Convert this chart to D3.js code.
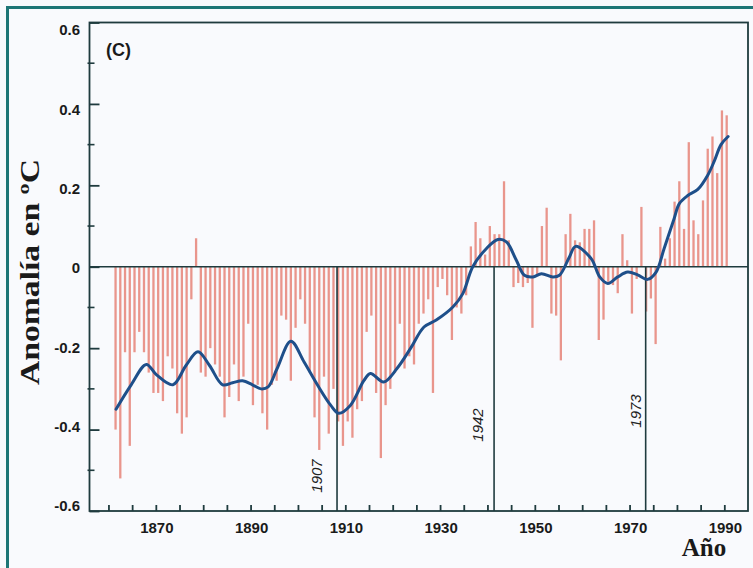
<!DOCTYPE html>
<html><head><meta charset="utf-8">
<script src="https://cdn.jsdelivr.net/npm/d3@7/dist/d3.min.js"></script>
<style>html,body{margin:0;padding:0;background:#f9fafd;} svg{display:block}</style>
</head><body>
<script>
// ---------------- data ----------------
const startYear = 1861;
const anomalies = [
 -0.40,-0.52,-0.21,-0.44,-0.21,-0.16,-0.21,-0.26,-0.31,-0.31, // 1861-1870
 -0.33,-0.22,-0.25,-0.36,-0.41,-0.37,-0.08, 0.07,-0.26,-0.27, // 1871-1880
 -0.20,-0.24,-0.27,-0.37,-0.32,-0.24,-0.33,-0.27,-0.14,-0.34, // 1881-1890
 -0.29,-0.36,-0.40,-0.29,-0.28,-0.12,-0.13,-0.28,-0.15,-0.08, // 1891-1900
 -0.14,-0.26,-0.37,-0.45,-0.27,-0.41,-0.30,-0.38,-0.44,-0.38, // 1901-1910
 -0.42,-0.35,-0.33,-0.16,-0.12,-0.31,-0.47,-0.34,-0.30,-0.26, // 1911-1920
 -0.14,-0.25,-0.22,-0.24,-0.14,-0.115,-0.08,-0.31,-0.05,-0.03, // 1921-1930
 -0.07,-0.18,-0.10,-0.115,-0.07, 0.05, 0.11, 0.07, 0.03, 0.10, // 1931-1940
  0.08, 0.08, 0.21, 0.065,-0.05,-0.04,-0.05,-0.04,-0.15,-0.02, // 1941-1950
  0.10, 0.145,-0.115,-0.12,-0.23, 0.08, 0.13, 0.065, 0.06, 0.093, // 1951-1960
  0.093, 0.114,-0.18,-0.13,-0.037,-0.045,-0.065, 0.08, 0.016,-0.115, // 1961-1970
 -0.03, 0.147,-0.11,-0.078,-0.19, 0.098, 0.02, 0.07, 0.16, 0.21, // 1971-1980
  0.093, 0.306, 0.114, 0.08, 0.163, 0.29, 0.32, 0.23, 0.384, 0.372 // 1981-1990
];
const years = anomalies.map((v, i) => startYear + i);

const smoothYears = [1861.6,1864.8,1868.0,1870.1,1873.6,1876.4,1878.9,1881.3,1884.1,1886.2,1888.3,1890.4,1892.2,
  1893.7,1895.6,1898.5,1901.3,1904.1,1906.9,1908.6,1911.1,1913.9,1915.3,1918.1,1920.9,1923.8,1926.6,
  1929.2,1932.7,1934.8,1936.9,1939.8,1942.2,1944.0,1946.1,1947.8,1949.6,1951.4,1953.8,1955.2,1957.3,
  1958.6,1961.9,1963.7,1965.4,1967.5,1969.6,1971.7,1973.8,1975.6,1977.3,1979.4,1980.5,1982.3,1984.4,
  1986.5,1987.9,1989.3,1990.8];
const smoothValues = [-0.35,-0.29,-0.24,-0.265,-0.29,-0.242,-0.209,-0.242,-0.29,-0.285,-0.28,-0.29,-0.30,
  -0.295,-0.25,-0.183,-0.234,-0.29,-0.34,-0.36,-0.34,-0.28,-0.262,-0.283,-0.25,-0.20,-0.148,
  -0.131,-0.099,-0.066,0.0,0.045,0.067,0.061,0.016,-0.021,-0.025,-0.017,-0.025,-0.021,0.024,
  0.05,0.02,-0.025,-0.041,-0.025,-0.013,-0.02,-0.031,-0.013,0.045,0.118,0.155,0.175,0.19,
  0.225,0.26,0.30,0.32];

const markerYears = [1908.25, 1941.4, 1973.4];
const markerLabels = ["1907", "1942", "1973"];

const yTickValues = [-0.6, -0.4, -0.2, 0, 0.2, 0.4, 0.6];
const yTickLabels = ["-0.6", "-0.4", "-0.2", "0", "0.2", "0.4", "0.6"];
const yMinorValues = [-0.5, -0.3, -0.1, 0.1, 0.3, 0.5];
const xLabelYears = [1870, 1890, 1910, 1930, 1950, 1970, 1990];
const xMinorYears = [1860,1865,1870,1875,1880,1885,1890,1895,1900,1905,1910,1915,1920,1925,1930,1935,1940,1945,1950,1955,1960,1965,1970,1975,1980,1985,1990];

const panelLabel = "(C)";
const yTitle = "Anomalía en ºC";
const xTitle = "Año";

// ---------------- layout ----------------
const W = 753, H = 568;
const L = 89.5, R = 748, T = 22.5, B = 511;
const frameColor = "#1d7676";
const axisColor = "#1f3b3e";
const barColor = "#e9958c";
const curveColor = "#1e4f8a";

const svg = d3.select("body").append("svg").attr("width", W).attr("height", H);
svg.append("rect").attr("width", W).attr("height", H).attr("fill", "#f9fafd");
// outer frame
svg.append("rect").attr("x", 7.5).attr("y", 7.5).attr("width", W + 10).attr("height", H + 10)
  .attr("fill", "none").attr("stroke", frameColor).attr("stroke-width", 3);

const x = d3.scaleLinear().domain([1856, 1995]).range([L, R]);
const y = d3.scaleLinear().domain([-0.6, 0.6]).range([B, T]);
// tick labels in the scanned original sit on a slightly compressed grid
const yLab = d3.scaleLinear().domain([-0.6, 0.6]).range([506, 30]);

// bars
svg.append("g").selectAll("line").data(years).join("line")
  .attr("x1", d => x(d + 0.5)).attr("x2", d => x(d + 0.5))
  .attr("y1", y(0)).attr("y2", (d, i) => y(anomalies[i]))
  .attr("stroke", barColor).attr("stroke-width", 2.3);

// zero line
svg.append("line").attr("x1", L).attr("x2", R).attr("y1", y(0)).attr("y2", y(0))
  .attr("stroke", axisColor).attr("stroke-width", 1.5);

// marker lines
svg.append("g").selectAll("line").data(markerYears).join("line")
  .attr("x1", d => x(d)).attr("x2", d => x(d))
  .attr("y1", y(0)).attr("y2", B)
  .attr("stroke", axisColor).attr("stroke-width", 1.6);

const labelDx = [-20, -16.5, -10];
const labelY = [476, 425, 411];
svg.append("g").selectAll("text").data(markerLabels).join("text")
  .attr("transform", (d, i) => `translate(${x(markerYears[i]) + labelDx[i]},${labelY[i]}) rotate(-90)`)
  .attr("text-anchor", "middle").attr("dy", "0.35em")
  .attr("font-family", "Liberation Sans, Arial, sans-serif").attr("font-style", "italic")
  .attr("font-size", 15).attr("fill", "#222")
  .text(d => d);

// smooth curve
const line = d3.line().x((d, i) => x(smoothYears[i])).y(d => y(d)).curve(d3.curveCatmullRom.alpha(0.5));
svg.append("path").datum(smoothValues).attr("d", line)
  .attr("fill", "none").attr("stroke", curveColor).attr("stroke-width", 3).attr("stroke-linecap", "round");

// plot box
svg.append("rect").attr("x", L).attr("y", T).attr("width", R - L).attr("height", B - T)
  .attr("fill", "none").attr("stroke", axisColor).attr("stroke-width", 1.8);

// y axis ticks (inward)
const yAxis = d3.axisRight(y).tickValues(yTickValues).tickSize(10).tickFormat("");
svg.append("g").attr("transform", `translate(${L},0)`).call(yAxis)
  .call(g => g.select(".domain").remove())
  .call(g => g.selectAll(".tick line").attr("stroke", axisColor).attr("stroke-width", 1.8));
svg.append("g").selectAll("line").data(yMinorValues).join("line")
  .attr("x1", L - 2).attr("x2", L + 5).attr("y1", d => y(d)).attr("y2", d => y(d))
  .attr("stroke", axisColor).attr("stroke-width", 1.6);
svg.append("g").selectAll("text").data(yTickValues).join("text")
  .attr("x", 80).attr("y", d => yLab(d)).attr("dy", "0.36em")
  .attr("text-anchor", "end").attr("font-family", "Liberation Sans, Arial, sans-serif")
  .attr("font-weight", "bold").attr("font-size", 15).attr("fill", "#1a1a1a")
  .text((d, i) => yTickLabels[i]);

// x axis ticks (inward)
const xAxis = d3.axisTop(x).tickValues(xMinorYears).tickSize(6).tickFormat("");
svg.append("g").attr("transform", `translate(0,${B})`).call(xAxis)
  .call(g => g.select(".domain").remove())
  .call(g => g.selectAll(".tick line").attr("stroke", axisColor).attr("stroke-width", 1.8));
svg.append("g").selectAll("text").data(xLabelYears).join("text")
  .attr("x", d => x(d) + 1).attr("y", 528).attr("dy", "0.36em")
  .attr("text-anchor", "middle").attr("font-family", "Liberation Sans, Arial, sans-serif")
  .attr("font-weight", "bold").attr("font-size", 15).attr("fill", "#1a1a1a")
  .text(d => d);

// panel label
svg.append("text").attr("x", 106).attr("y", 50).attr("dy", "0.36em")
  .attr("font-family", "Liberation Sans, Arial, sans-serif").attr("font-weight", "bold")
  .attr("font-size", 18).attr("fill", "#1a1a1a").text(panelLabel);

// titles
svg.append("text").attr("transform", "translate(30,272) rotate(-90)")
  .attr("text-anchor", "middle").attr("dy", "0.35em")
  .attr("font-family", "Liberation Serif, Times New Roman, serif").attr("font-weight", "bold")
  .attr("font-size", 27).attr("textLength", 226).attr("lengthAdjust", "spacingAndGlyphs")
  .attr("fill", "#1a1a1a").text(yTitle);
svg.append("text").attr("x", 704).attr("y", 547).attr("dy", "0.35em")
  .attr("text-anchor", "middle")
  .attr("font-family", "Liberation Serif, Times New Roman, serif").attr("font-weight", "bold")
  .attr("font-size", 25).attr("fill", "#1a1a1a").text(xTitle);
</script>
</body></html>
